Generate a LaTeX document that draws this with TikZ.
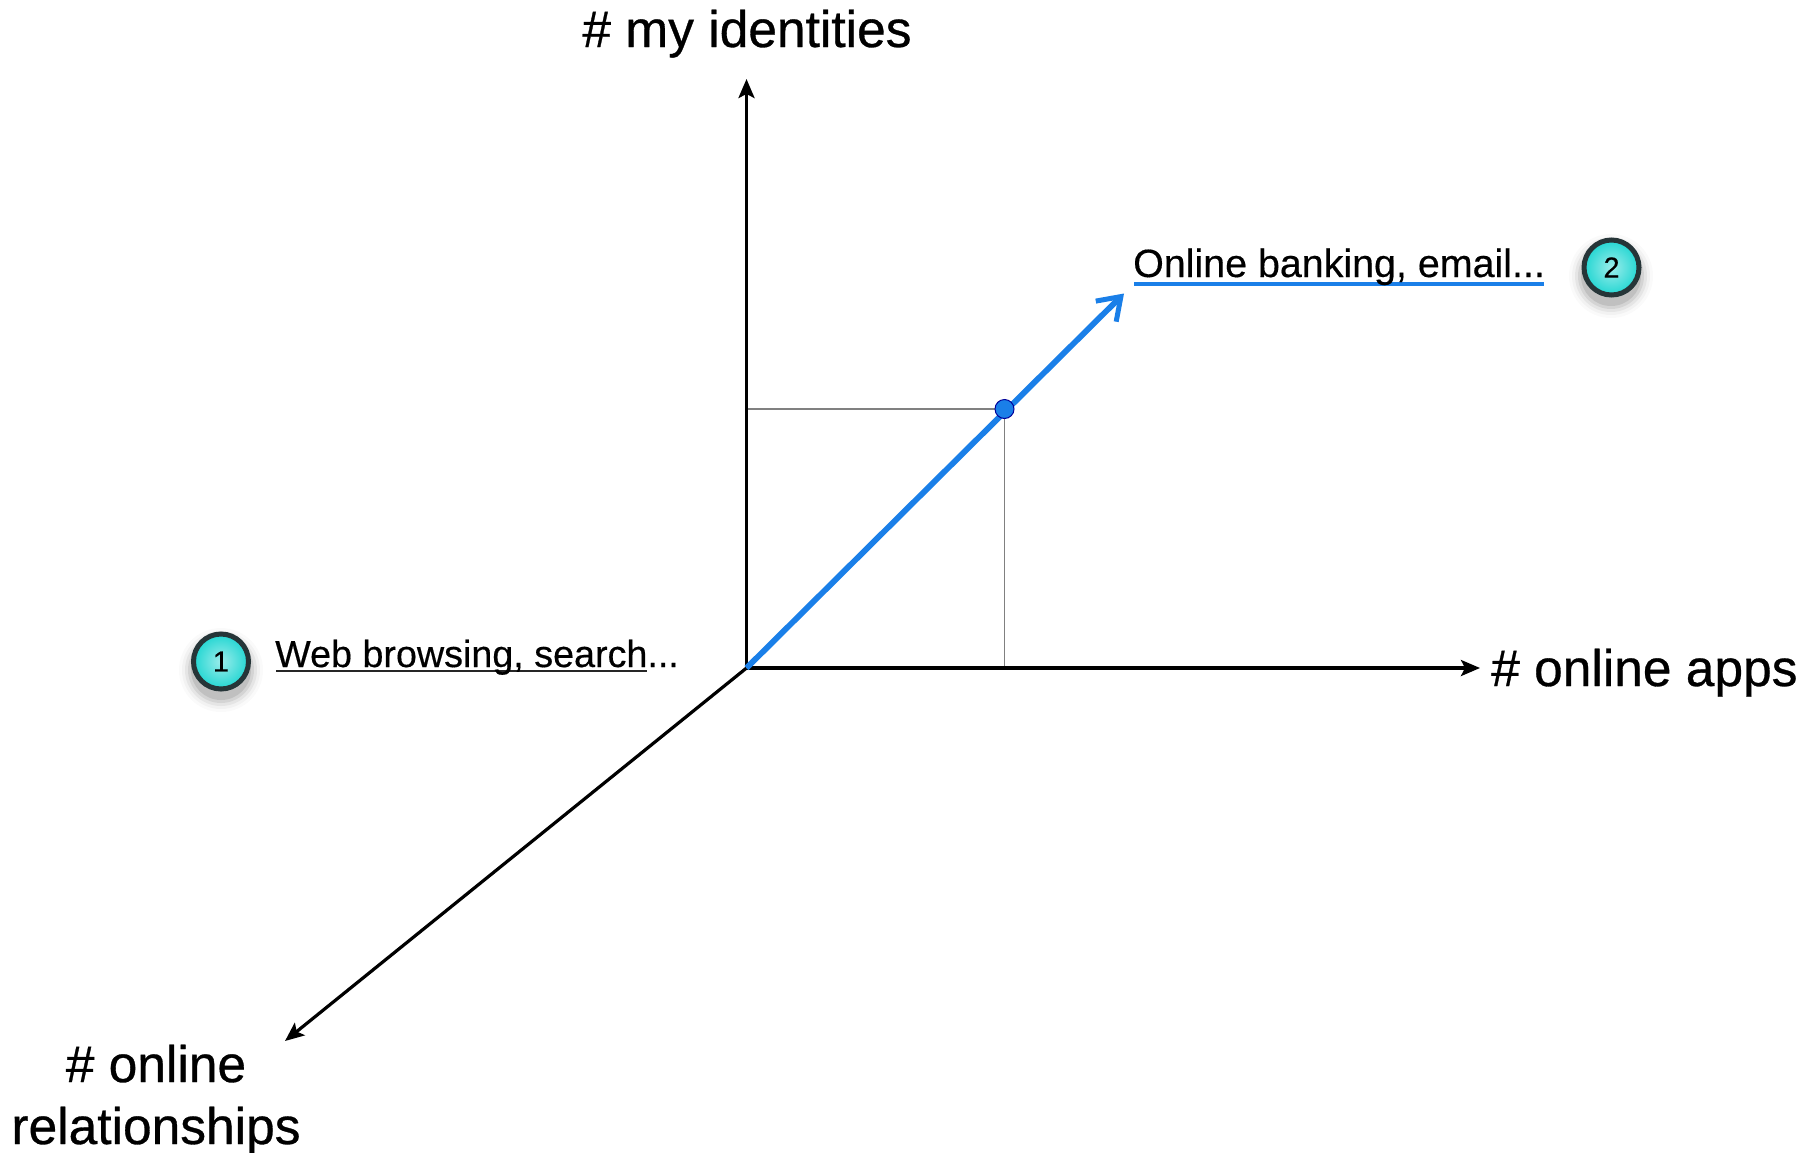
\documentclass[tikz,border=0pt]{standalone}
\usepackage{fontspec}
\setmainfont{Liberation Sans}
\newfontfamily\heavyfont[FakeBold=0.6]{Liberation Sans}
\newfontfamily\midfont[FakeBold=0.4]{Liberation Sans}
\usetikzlibrary{arrows.meta}
\definecolor{bluel}{HTML}{1A7FE8}
\definecolor{tealball}{HTML}{22D6D2}
\definecolor{ringc}{HTML}{263538}
\tikzset{
  x=1pt,y=-1pt,
  axis/.style={draw=black,line width=3.2pt,-{Stealth[length=19pt,width=16pt,inset=4pt]}},
  guide/.style={draw=black!50,line width=1.3pt},
  bluearrow/.style={draw=bluel,line width=5.8pt,-{Straight Barb[length=21pt,width=29pt,line width=5pt]}},
  lab/.style={font=\heavyfont\fontsize{51.5}{60}\selectfont,inner sep=0pt,text=black},
  sublaba/.style={font=\midfont\fontsize{37.7}{44}\selectfont,inner sep=0pt,text=black},
  sublabb/.style={font=\midfont\fontsize{39.4}{46}\selectfont,inner sep=0pt,text=black},
  ball/.style={circle,minimum size=55pt,inner sep=0pt,line width=5pt,draw=ringc,inner color=tealball!45,outer color=tealball,font=\midfont\fontsize{29}{32}\selectfont,text=black},
  ulineK/.style={draw=black!85,line width=2.8pt},
  ulineB/.style={draw=bluel,line width=3.4pt},
}
\newcommand{\ballshadow}[2]{%
  \foreach \r/\o in {42/0.02,39/0.03,36/0.05,33/0.07,30/0.09}{\fill[black,opacity=\o] (#1,#2+8) circle[radius=\r];}%
}
\begin{document}
\begin{tikzpicture}
\useasboundingbox (0,0) rectangle (1812,1152);
\fill[white] (0,0) rectangle (1812,1152);
\coordinate (O) at (746.5,668);
\coordinate (Y) at (746.5,79);
\coordinate (X) at (1480,668);
\coordinate (Z) at (285,1041);
\coordinate (B) at (1124,293.5);
\coordinate (D) at (1004.5,409);
\coordinate (Dy) at (746.5,409);
\coordinate (Dx) at (1004.5,668);
\coordinate (U1a) at (276,671);
\coordinate (U1b) at (647,671);
\coordinate (U2a) at (1134,284);
\coordinate (U2b) at (1544,284);
\draw[guide] (Dy) -- (D);
\draw[guide] (D) -- (Dx);
\draw[axis] (O) -- (Y);
\draw[axis] (O) -- (X);
\draw[axis] (O) -- (Z);
\draw[bluearrow] (O) -- (B);
\fill[bluel,draw=blue!60!black,line width=1pt] (D) circle[radius=9.5];
\draw[ulineK] (U1a) -- (U1b);
\draw[ulineB] (U2a) -- (U2b);
\node[lab,anchor=base] (ly) at (747,47) {\# my identities};
\node[lab,anchor=base west] (lx) at (1491,686) {\# online apps};
\node[lab,anchor=base,align=center] (lz1) at (156,1082) {\# online};
\node[lab,anchor=base,align=center] (lz2) at (156,1144) {relationships};
\node[sublaba,anchor=base west] (t1) at (275,667) {Web browsing, search...};
\node[sublabb,anchor=base west] (t2) at (1133,277) {Online banking, email...};
\ballshadow{221}{662}
\ballshadow{1611}{268}
\node[ball] (b1) at (221,661.5) {1};
\node[ball] (b2) at (1611.5,267.5) {2};
\end{tikzpicture}
\end{document}
